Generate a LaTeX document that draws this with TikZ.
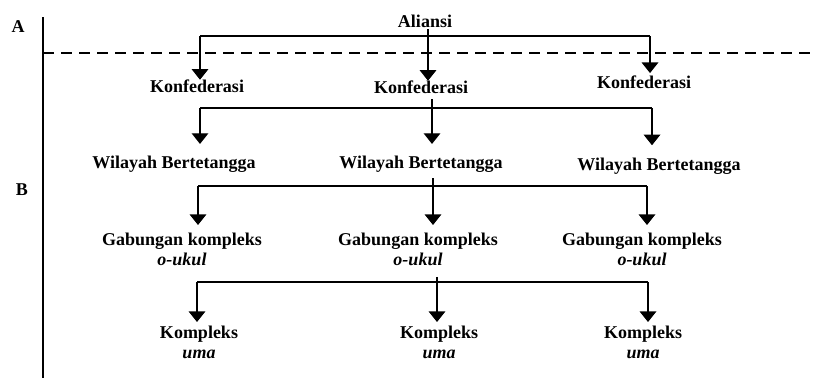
\documentclass[tikz,border=0pt]{standalone}
\usepackage{fontspec}
\setmainfont{Liberation Serif}
\usetikzlibrary{arrows.meta}

\begin{document}
\begin{tikzpicture}[x=0.75pt,y=0.75pt,yscale=-1,xscale=1,
  lbl/.style={inner sep=1.5pt,font=\fontsize{13.5}{14.5}\selectfont\bfseries,align=center},
  drop/.style={line width=1pt,-{Triangle[width=12.5pt,length=8pt]}},
  bar/.style={line width=0.8pt}]
\useasboundingbox (0,0) rectangle (816,380);

% Level marks
\node [lbl,anchor=base] (lvA) at (18,32) {A};
\node [lbl,anchor=base] (lvB) at (22,195) {B};
\coordinate (axT) at (43,17);
\coordinate (axB) at (43,378);
\draw [line width=1.1pt] (axT) -- (axB);
\coordinate (dsL) at (43,53);
\coordinate (dsR) at (816,53);
\draw [dash pattern=on 8pt off 5.5pt,line width=0.8pt] (dsL) -- (dsR);

% Text Nodes
\node [lbl,anchor=base] (ali) at (425,27) {Aliansi};
\node [lbl,anchor=base] (konfL) at (197,92) {Konfederasi};
\node [lbl,anchor=base] (konfM) at (421,93) {Konfederasi};
\node [lbl,anchor=base] (konfR) at (644,88) {Konfederasi};
\node [lbl,anchor=base] (wilL) at (174,168) {Wilayah Bertetangga};
\node [lbl,anchor=base] (wilM) at (421,168) {Wilayah Bertetangga};
\node [lbl,anchor=base] (wilR) at (659,170) {Wilayah Bertetangga};
\node [lbl,anchor=north] (gabL) at (182,231) {Gabungan kompleks\\\textit{o-ukul}};
\node [lbl,anchor=north] (gabM) at (418,231) {Gabungan kompleks\\\textit{o-ukul}};
\node [lbl,anchor=north] (gabR) at (642,231) {Gabungan kompleks\\\textit{o-ukul}};
\node [lbl,anchor=north] (kompL) at (199,324) {Kompleks\\\textit{uma}};
\node [lbl,anchor=north] (kompM) at (439,324) {Kompleks\\\textit{uma}};
\node [lbl,anchor=north] (kompR) at (643,324) {Kompleks\\\textit{uma}};

% Bars
\coordinate (b1L) at (200,36); \coordinate (b1R) at (650,36);
\coordinate (b2L) at (200,108); \coordinate (b2R) at (652,108);
\coordinate (b3L) at (198,186); \coordinate (b3R) at (647,186);
\coordinate (b4L) at (197,282); \coordinate (b4R) at (648,282);
\draw [bar] (b1L) -- (b1R);
\draw [bar] (b2L) -- (b2R);
\draw [bar] (b3L) -- (b3R);
\draw [bar] (b4L) -- (b4R);

% Drops
\draw [drop,shorten >=-2pt] (b1L) -- (b1L |- konfL.north);
\draw [drop,shorten >=-2pt] ([xshift=2.25pt]ali.south) -- ([xshift=2.25pt]ali.south |- konfM.north);
\draw [drop] (b1R) -- (b1R |- konfR.north);
\draw [drop,shorten >=7pt] (b2L) -- (b2L |- wilL.north);
\draw [drop,shorten >=7pt,shorten <=3pt] ([xshift=8.25pt]konfM.south) -- ([xshift=8.25pt]konfM.south |- wilM.north);
\draw [drop,shorten >=7.5pt] (b2R) -- (b2R |- wilR.north);
\draw [drop,shorten >=4.5pt] (b3L) -- (b3L |- gabL.north);
\draw [drop,shorten >=4.5pt,shorten <=3pt] ([xshift=9pt]wilM.south) -- ([xshift=9pt]wilM.south |- gabM.north);
\draw [drop,shorten >=4.5pt] (b3R) -- (b3R |- gabR.north);
\draw [drop,shorten >=1.5pt] (b4L) -- (b4L |- kompL.north);
\draw [drop,shorten >=1.5pt,shorten <=7pt] ([xshift=14.25pt]gabM.south) -- ([xshift=14.25pt]gabM.south |- kompM.north);
\draw [drop,shorten >=1.5pt] (b4R) -- (b4R |- kompR.north);

\end{tikzpicture}
\end{document}
